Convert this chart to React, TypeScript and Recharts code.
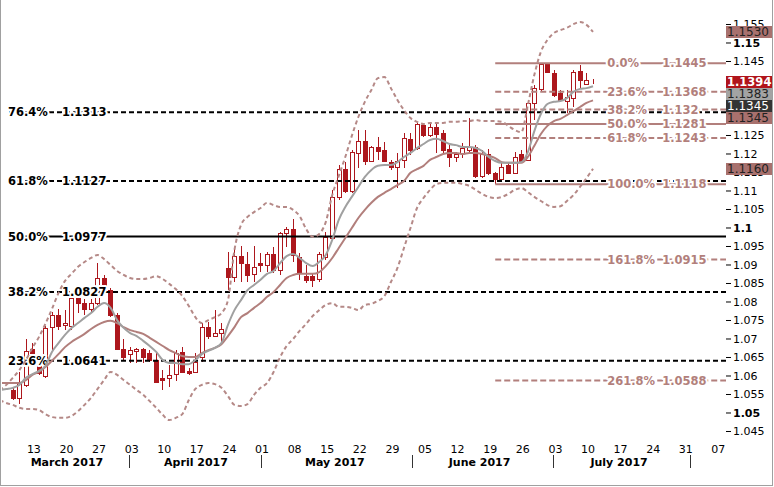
import React from 'react'
import { Bar, ComposedChart, Line, ReferenceLine, XAxis, YAxis } from 'recharts'

const FONT = '"DejaVu Sans", Verdana, sans-serif'
const RED = '#ad171d'
const ROSE = '#b27f7c'
const BAND = '#b58987'
const GRAY = '#a0a0a0'

// day index: 0 = Mon 13 March 2017, trading days only
const LINE_START = -5
const CANDLE_START = -3
const X_MIN = -4.66
const X_MAX = 106.4
const Y_MIN = 1.0427
const Y_MAX = 1.16162

// bollinger bands and moving averages, one value per day from LINE_START
const upperBand = [
  1.0562, 1.0576, 1.0595, 1.0616, 1.0643,
  1.0676, 1.0705, 1.0741, 1.0781, 1.0824, 1.0857, 1.0876, 1.0895, 1.0908, 1.0919,
  1.0927, 1.0916, 1.09, 1.0884, 1.0873, 1.0865, 1.0862, 1.0862, 1.0865, 1.087,
  1.0862, 1.0849, 1.0835, 1.0816, 1.0789, 1.0759, 1.0743, 1.0751, 1.0759, 1.077,
  1.0805, 1.0941, 1.1008, 1.103, 1.1043, 1.1054, 1.1068, 1.1062, 1.1057, 1.1057,
  1.1049, 1.1032, 1.0997, 1.0976, 1.0984, 1.1016, 1.1089, 1.1141, 1.1192, 1.1249,
  1.13, 1.1341, 1.1373, 1.1405, 1.1408, 1.1378, 1.1346, 1.1319, 1.1297, 1.1287,
  1.1281, 1.1284, 1.1284, 1.1284, 1.1287, 1.1287, 1.1289, 1.1289, 1.1292, 1.1289,
  1.1289, 1.1289, 1.1287, 1.1276, 1.1265, 1.1259, 1.1332, 1.1414, 1.1476, 1.1508,
  1.1527, 1.1535, 1.1541, 1.1551, 1.1557, 1.1549, 1.153,
]
const lowerBand = [
  1.0535, 1.0527, 1.0522, 1.0514, 1.0511,
  1.0511, 1.0508, 1.0497, 1.0489, 1.0487, 1.0487, 1.0492, 1.0505, 1.0522, 1.0541,
  1.0565, 1.0589, 1.0611, 1.0603, 1.0589, 1.0576, 1.0562, 1.0549, 1.0532, 1.0514,
  1.0495, 1.0481, 1.0487, 1.0497, 1.0535, 1.0565, 1.0576, 1.0581, 1.0578, 1.0568,
  1.0546, 1.0522, 1.0519, 1.0524, 1.0549, 1.0568, 1.0581, 1.0611, 1.0651, 1.0681,
  1.07, 1.0722, 1.0741, 1.0762, 1.0778, 1.0792, 1.0797, 1.0787, 1.0787, 1.0784,
  1.0778, 1.0792, 1.0795, 1.0803, 1.0816, 1.0854, 1.0892, 1.0946, 1.1, 1.1054,
  1.1081, 1.1103, 1.1119, 1.1122, 1.1122, 1.1122, 1.1119, 1.1114, 1.1103, 1.1092,
  1.1084, 1.1081, 1.1084, 1.1092, 1.1103, 1.1108, 1.1097, 1.1084, 1.1073, 1.1062,
  1.1057, 1.1059, 1.1073, 1.1089, 1.1111, 1.1135, 1.116,
]
const fastMa = [
  1.0562, 1.0565, 1.0568, 1.0576, 1.0595,
  1.0605, 1.0614, 1.0627, 1.0665, 1.0689, 1.0711, 1.073, 1.0743, 1.0757, 1.077,
  1.0787, 1.0797, 1.0784, 1.0751, 1.073, 1.0716, 1.0708, 1.0695, 1.0681, 1.0665,
  1.0643, 1.0635, 1.0635, 1.0632, 1.0632, 1.0643, 1.0659, 1.0668, 1.0676, 1.0689,
  1.0738, 1.0778, 1.0805, 1.0832, 1.0846, 1.086, 1.0876, 1.0884, 1.0905, 1.0924,
  1.093, 1.0919, 1.0905, 1.0897, 1.0908, 1.0927, 1.0968, 1.1022, 1.1057, 1.1084,
  1.1111, 1.1138, 1.1157, 1.1168, 1.117, 1.117, 1.1178, 1.1192, 1.1203, 1.1216,
  1.1227, 1.1238, 1.1241, 1.1235, 1.1227, 1.1224, 1.1219, 1.1219, 1.1216, 1.1208,
  1.1192, 1.1181, 1.1176, 1.1176, 1.1176, 1.1178, 1.1205, 1.1262, 1.1308, 1.1335,
  1.1341, 1.1343, 1.1351, 1.1368, 1.1376, 1.1378, 1.1383,
]
const slowMa = [
  1.0581, 1.0581, 1.0581, 1.0581, 1.0589,
  1.0603, 1.0611, 1.0624, 1.0641, 1.0659, 1.0678, 1.0692, 1.0703, 1.0714, 1.0727,
  1.0738, 1.0746, 1.0749, 1.0743, 1.0732, 1.0724, 1.0719, 1.0714, 1.0703, 1.0692,
  1.0681, 1.067, 1.0662, 1.0654, 1.0651, 1.0651, 1.0662, 1.067, 1.0676, 1.0686,
  1.0708, 1.0732, 1.0759, 1.077, 1.0784, 1.0797, 1.0814, 1.0827, 1.0846, 1.0865,
  1.0873, 1.0876, 1.0876, 1.0876, 1.0881, 1.0897, 1.0919, 1.0946, 1.0973, 1.1,
  1.1027, 1.1049, 1.1068, 1.1084, 1.1095, 1.1105, 1.1116, 1.1127, 1.1149, 1.1159,
  1.1168, 1.1184, 1.1192, 1.12, 1.1203, 1.1203, 1.12, 1.1203, 1.1203, 1.12,
  1.1195, 1.1189, 1.1178, 1.1176, 1.1176, 1.1176, 1.1192, 1.1222, 1.1254, 1.1276,
  1.1289, 1.1295, 1.1305, 1.1316, 1.1327, 1.1338, 1.1345,
]

// daily candles from CANDLE_START (8 March) to 11 July
const opens = [
  1.0562, 1.0541, 1.0576,
  1.0673, 1.0627, 1.06, 1.0732, 1.0765, 1.0738, 1.0735, 1.0811, 1.0797, 1.0781,
  1.0797, 1.0865, 1.0832, 1.0765, 1.0673, 1.0659, 1.0668, 1.0673, 1.0662, 1.0643,
  1.0595, 1.0595, 1.0605, 1.0665, 1.0613, 1.0611, 1.0651, 1.0732, 1.0708, 1.0716,
  1.0892, 1.0868, 1.0924, 1.0903, 1.0876, 1.0905, 1.09, 1.093, 1.0886, 1.0987,
  1.0997, 1.0922, 1.087, 1.087, 1.0862, 1.0922, 1.0973, 1.1084, 1.116, 1.11,
  1.1203, 1.1235, 1.1181, 1.1219, 1.1211, 1.1178, 1.1165, 1.1184, 1.1241, 1.1216,
  1.1278, 1.1251, 1.1273, 1.1257, 1.1214, 1.1192, 1.1203, 1.1211, 1.1219, 1.1141,
  1.12, 1.1149, 1.1132, 1.117, 1.1149, 1.12, 1.1184, 1.1338, 1.1376, 1.1443,
  1.1419, 1.1365, 1.1343, 1.1351, 1.1424, 1.1389, 1.1395,
]
const highs = [
  1.0567, 1.0611, 1.07,
  1.0689, 1.0657, 1.0735, 1.0773, 1.0781, 1.0778, 1.0814, 1.0814, 1.0808, 1.0808,
  1.0905, 1.0873, 1.0838, 1.077, 1.07, 1.0678, 1.0676, 1.0676, 1.067, 1.0665,
  1.0616, 1.063, 1.067, 1.0678, 1.0622, 1.0662, 1.0743, 1.0746, 1.0778, 1.0743,
  1.0935, 1.0949, 1.0951, 1.0935, 1.0951, 1.0932, 1.0935, 1.0949, 1.0989, 1.1003,
  1.1024, 1.0932, 1.09, 1.0878, 1.0935, 1.0989, 1.1103, 1.117, 1.1178, 1.1211,
  1.1265, 1.1265, 1.1222, 1.1246, 1.1232, 1.1184, 1.1203, 1.1257, 1.1257, 1.1287,
  1.1284, 1.1287, 1.1284, 1.1265, 1.123, 1.1205, 1.123, 1.1297, 1.1224, 1.1211,
  1.1214, 1.1151, 1.1176, 1.1176, 1.1205, 1.1211, 1.1346, 1.1386, 1.1445, 1.1445,
  1.1427, 1.1373, 1.1373, 1.1427, 1.1441, 1.1419, 1.1403,
]
const lows = [
  1.0535, 1.0524, 1.0571,
  1.0638, 1.0603, 1.0595, 1.067, 1.0724, 1.0724, 1.0724, 1.077, 1.0765, 1.0773,
  1.0792, 1.0841, 1.0759, 1.067, 1.0643, 1.0635, 1.0635, 1.0635, 1.0638, 1.0581,
  1.0562, 1.0571, 1.0587, 1.0608, 1.0603, 1.0608, 1.0638, 1.07, 1.0705, 1.0689,
  1.0832, 1.0854, 1.0854, 1.0854, 1.0854, 1.0881, 1.0881, 1.0878, 1.0873, 1.0949,
  1.0908, 1.086, 1.0851, 1.0841, 1.0854, 1.0914, 1.0968, 1.1076, 1.1095, 1.1095,
  1.1162, 1.117, 1.1178, 1.1184, 1.1178, 1.1157, 1.1108, 1.1162, 1.1197, 1.1211,
  1.1246, 1.1246, 1.1203, 1.1203, 1.1165, 1.1178, 1.1189, 1.1205, 1.1135, 1.1135,
  1.1143, 1.1118, 1.113, 1.1146, 1.1146, 1.1178, 1.1181, 1.1292, 1.137, 1.1419,
  1.1354, 1.1341, 1.1311, 1.1327, 1.1378, 1.1386, 1.1389,
]
const closes = [
  1.0541, 1.0581, 1.0668,
  1.0662, 1.0608, 1.073, 1.0765, 1.0735, 1.0743, 1.0811, 1.0797, 1.0781, 1.0797,
  1.0865, 1.0846, 1.0765, 1.0673, 1.0651, 1.067, 1.0673, 1.0651, 1.0643, 1.0584,
  1.0589, 1.0603, 1.0662, 1.0611, 1.0608, 1.0638, 1.0732, 1.0708, 1.0716, 1.0727,
  1.0868, 1.0924, 1.0905, 1.0873, 1.0895, 1.09, 1.093, 1.0886, 1.0987, 1.0997,
  1.0927, 1.0878, 1.086, 1.086, 1.093, 1.0976, 1.1084, 1.116, 1.11, 1.1205,
  1.1235, 1.1181, 1.1219, 1.1208, 1.1181, 1.1165, 1.1181, 1.1243, 1.1211, 1.1281,
  1.1251, 1.1273, 1.1254, 1.1211, 1.1192, 1.12, 1.1216, 1.1219, 1.1141, 1.12,
  1.1149, 1.1132, 1.1165, 1.1149, 1.1192, 1.1181, 1.1338, 1.1378, 1.1443, 1.1422,
  1.1359, 1.1346, 1.1354, 1.1422, 1.14, 1.14, 1.1394,
]

// fibonacci levels
const leftFibPct = ['76.4%', '61.8%', '50.0%', '38.2%', '23.6%']
const leftFibVal = [1.1313, 1.1127, 1.0977, 1.0827, 1.0641]
const leftFibSolid = [false, false, true, false, false]
const FIB_ANCHOR = 71 // june swing low
const rightFibPct = ['0.0%', '23.6%', '38.2%', '50.0%', '61.8%', '100.0%', '161.8%', '261.8%']
const rightFibVal = [1.1445, 1.1368, 1.132, 1.1281, 1.1243, 1.1118, 1.0915, 1.0588]
const rightFibSolid = [true, false, false, true, false, true, false, false]

// axis labels
const priceTicks = [
  1.045, 1.05, 1.055, 1.06, 1.065, 1.07, 1.075, 1.08, 1.085, 1.09, 1.095, 1.1,
  1.105, 1.11, 1.115, 1.12, 1.125, 1.13, 1.135, 1.14, 1.145, 1.15, 1.155,
]
const boldTicks = [1.05, 1.1, 1.15]
const dayLabels = [
  '13', '20', '27', '03', '10', '17', '24', '01', '08', '15', '22',
  '29', '05', '12', '19', '26', '03', '10', '17', '24', '31', '07',
]
const monthLabels = ['March 2017', 'April 2017', 'May 2017', 'June 2017', 'July 2017']
const monthCenters = [5.3, 25.1, 46.4, 68.6, 90.0]
const monthSeps = [14.8, 35.05, 58.2, 79.8, 100.9]

// last-value tags on the price scale
const bbMidLast = 1.1345
const tags = [
  { v: upperBand[upperBand.length - 1], bg: '#a8716e', fg: '#222', bold: false, nudge: 0 },
  { v: closes[closes.length - 1], bg: '#b0141b', fg: '#fff', bold: true, nudge: 0 },
  { v: fastMa[fastMa.length - 1], bg: '#a3a3a3', fg: '#222', bold: false, nudge: 8 },
  { v: bbMidLast, bg: '#333333', fg: '#fff', bold: false, nudge: 6 },
  { v: slowMa[slowMa.length - 1], bg: '#a8716e', fg: '#222', bold: false, nudge: 18 },
  { v: lowerBand[lowerBand.length - 1], bg: '#a8716e', fg: '#222', bold: false, nudge: 0 },
]
const tagValues = Array.from(new Set(tags.map((t) => t.v)))

const data = upperBand.map((_, k) => {
  const i = LINE_START + k
  const c = i - CANDLE_START
  const has = c >= 0 && c < closes.length
  return {
    i,
    upper: upperBand[k],
    lower: lowerBand[k],
    fast: fastMa[k],
    slow: slowMa[k],
    range: has ? [lows[c], highs[c]] : null,
    o: has ? opens[c] : null,
    c: has ? closes[c] : null,
  }
})

const dayTickPos = dayLabels.map((_, k) => k * 5 + 0.23)
const xTicks = [...dayTickPos, ...monthCenters, ...monthSeps]

function Candle(props: any) {
  const { x, y, width, height, payload } = props
  if (!payload || payload.o == null) return null
  const [lo, hi] = payload.range
  const k = hi > lo ? height / (hi - lo) : 0
  const py = (v: number) => y + (hi - v) * k
  const up = payload.c >= payload.o
  const col = Math.round(x + width / 2 - 0.5)
  const top = Math.round(py(Math.max(payload.o, payload.c)))
  const bot = Math.round(py(Math.min(payload.o, payload.c)))
  return (
    <g shapeRendering="crispEdges">
      <line x1={col + 0.5} x2={col + 0.5} y1={Math.round(y)} y2={Math.round(y + height)} stroke={RED} />
      <rect
        x={col - 1.5}
        y={top + 0.5}
        width={4}
        height={Math.max(bot - top, 0)}
        fill={up ? '#fff' : RED}
        stroke={RED}
      />
    </g>
  )
}

function DateTick(props: any) {
  const { x, y, payload } = props
  const v = payload.value
  const d = dayTickPos.indexOf(v)
  if (d >= 0)
    return (
      <text x={x} y={y + 12.5} textAnchor="middle" fontSize={11} fontFamily={FONT} fill="#000">
        {dayLabels[d]}
      </text>
    )
  const m = monthCenters.indexOf(v)
  if (m >= 0)
    return (
      <text x={x} y={y + 25.5} textAnchor="middle" fontSize={11} fontWeight="bold" fontFamily={FONT} fill="#000">
        {monthLabels[m]}
      </text>
    )
  if (monthSeps.indexOf(v) >= 0) {
    const lx = Math.round(x) + 0.5
    return <line x1={lx} x2={lx} y1={y + 15} y2={y + 28} stroke="#333" />
  }
  return null
}

// price scale: ordinary labels, then the value tags drawn last on top of them
function PriceTick(props: any) {
  const { x, y, payload } = props
  const v = payload.value
  if (tagValues.includes(v)) {
    return (
      <g>
        {tags
          .filter((t) => t.v === v)
          .map((t, k) => {
            const cy = Math.round(y + t.nudge)
            return (
              <g key={k}>
                <rect x={x - 7} y={cy - 6} width={46} height={12} fill={t.bg} />
                <text
                  x={x - 6}
                  y={cy}
                  dy="0.36em"
                  fontSize={t.bold ? 11.5 : 12}
                  fontWeight={t.bold ? 'bold' : 'normal'}
                  fontFamily={FONT}
                  fill={t.fg}
                >
                  {t.v.toFixed(4)}
                </text>
              </g>
            )
          })}
      </g>
    )
  }
  return (
    <text
      x={x}
      y={y}
      dy="0.36em"
      textAnchor="start"
      fontSize={11}
      fontWeight={boldTicks.includes(v) ? 'bold' : 'normal'}
      fontFamily={FONT}
      fill="#000"
    >
      {String(Number(v.toFixed(3)))}
    </text>
  )
}

function FibLabel(props: any) {
  const { viewBox, pct, val, color, pctDx, valDx, clearLeft } = props
  if (!viewBox) return null
  const common = {
    y: viewBox.y,
    dy: '0.36em',
    fontSize: 11.5,
    fontWeight: 'bold',
    fontFamily: FONT,
    fill: color,
    stroke: '#fff',
    strokeWidth: 4,
    strokeLinejoin: 'round' as const,
    paintOrder: 'stroke',
  }
  return (
    <g>
      {clearLeft && <rect x={viewBox.x} y={viewBox.y - 2} width={pctDx} height={4} fill="#fff" />}
      <text x={viewBox.x + pctDx} {...common}>{pct}</text>
      <text x={viewBox.x + valDx} {...common}>{val}</text>
    </g>
  )
}

export default function App() {
  return (
    <div style={{ position: 'absolute', left: 0, top: 0, width: 774, height: 487, background: '#fff', overflow: 'hidden' }}>
      <ComposedChart width={774} height={487} data={data} margin={{ top: 0, right: 0, bottom: 0, left: 2 }}>
        <XAxis
          dataKey="i"
          type="number"
          domain={[X_MIN, X_MAX]}
          allowDataOverflow
          ticks={xTicks}
          interval={0}
          tick={<DateTick />}
          tickLine={false}
          axisLine={false}
          tickSize={0}
          tickMargin={0}
          height={47}
        />
        <YAxis
          orientation="right"
          width={48}
          domain={[Y_MIN, Y_MAX]}
          allowDataOverflow
          ticks={[...priceTicks, ...tagValues]}
          interval={0}
          tick={<PriceTick />}
          tickSize={5}
          tickMargin={2}
          tickLine={{ stroke: '#000' }}
          axisLine={false}
        />

        {leftFibVal.map((v, k) => (
          <ReferenceLine
            key={'lf' + k}
            y={v}
            stroke="#000"
            strokeWidth={2}
            strokeDasharray={leftFibSolid[k] ? undefined : '5 3'}
            label={<FibLabel pct={leftFibPct[k]} val={String(v)} color="#000" pctDx={6} valDx={60} clearLeft />}
          />
        ))}
        {rightFibVal.map((v, k) => (
          <ReferenceLine
            key={'rf' + k}
            segment={[{ x: FIB_ANCHOR, y: v }, { x: X_MAX, y: v }]}
            stroke={ROSE}
            strokeWidth={2}
            strokeDasharray={rightFibSolid[k] ? undefined : '6 3'}
            label={<FibLabel pct={rightFibPct[k]} val={String(v)} color={ROSE} pctDx={112} valDx={167} />}
          />
        ))}

        <Bar dataKey="range" barSize={5} shape={<Candle />} isAnimationActive={false} />

        <Line dataKey="upper" type="monotone" stroke={BAND} strokeWidth={2} strokeDasharray="4 3" dot={false} activeDot={false} isAnimationActive={false} />
        <Line dataKey="lower" type="monotone" stroke={BAND} strokeWidth={2} strokeDasharray="4 3" dot={false} activeDot={false} isAnimationActive={false} />
        <Line dataKey="slow" type="monotone" stroke={ROSE} strokeWidth={2} dot={false} activeDot={false} isAnimationActive={false} />
        <Line dataKey="fast" type="monotone" stroke={GRAY} strokeWidth={2} dot={false} activeDot={false} isAnimationActive={false} />
      </ComposedChart>
      <div
        style={{
          position: 'absolute',
          left: 0,
          top: -2,
          width: 773,
          height: 488,
          boxSizing: 'border-box',
          border: '1px solid #a0a0a0',
          pointerEvents: 'none',
        }}
      />
    </div>
  )
}
